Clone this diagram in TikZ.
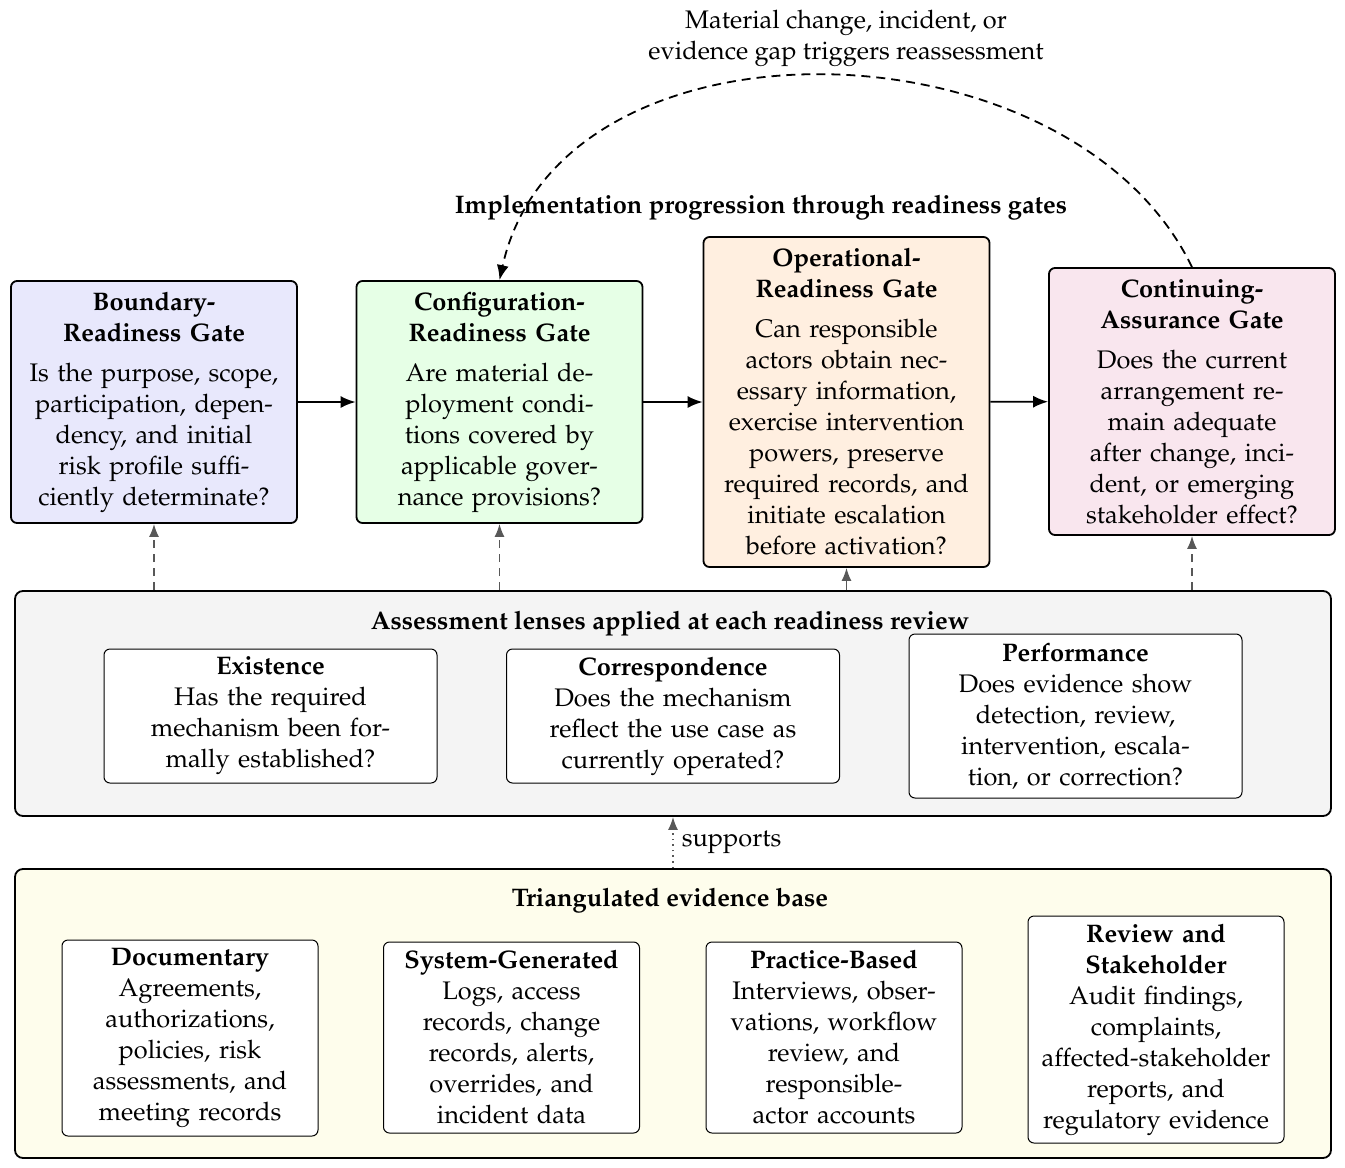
\documentclass[tikz,border=0pt]{standalone}
\usepackage[T1]{fontenc}
\usepackage{mathpazo}
\usetikzlibrary{arrows.meta}
\definecolor{gateB}{RGB}{232,232,252}
\definecolor{gateC}{RGB}{230,255,230}
\definecolor{gateO}{RGB}{255,239,224}
\definecolor{gateK}{RGB}{249,230,238}
\definecolor{lensbg}{RGB}{244,244,244}
\definecolor{evbg}{RGB}{254,253,236}
\definecolor{conn}{RGB}{88,88,88}
\tikzset{
  txt/.style={font=\fontsize{12.7}{15.5}\selectfont},
  btxt/.style={font=\fontsize{12.7}{15.5}\selectfont\bfseries},
  gate/.style={txt, draw, line width=0.9pt, rounded corners=3pt, align=center,
    text width=132pt, inner sep=0pt, minimum width=143pt},
  panel/.style={draw, line width=0.9pt, rounded corners=4pt, minimum width=658pt, inner sep=0pt},
  lensbox/.style={txt, draw, line width=0.5pt, fill=white, rounded corners=3pt, align=center,
    text width=152pt, inner sep=0pt, minimum width=166.5pt},
  evbox/.style={txt, draw, line width=0.5pt, fill=white, rounded corners=3pt, align=center,
    text width=122pt, inner sep=0pt, minimum width=128pt},
  flow/.style={line width=0.9pt, -{Latex[length=7.5pt,width=6pt]}},
  lensarrow/.style={conn, line width=0.8pt, dash pattern=on 4pt off 3pt, -{Latex[length=6.5pt,width=5pt]}},
  suparrow/.style={conn, line width=0.8pt, dotted, -{Latex[length=6.5pt,width=5pt]}},
  loop/.style={line width=0.9pt, dash pattern=on 4.5pt off 3pt, -{Latex[length=7.5pt,width=6pt]}},
}
\begin{document}
\begin{tikzpicture}[x=0.5pt,y=-0.5pt]
\useasboundingbox (0,0) rectangle (1345,1168);

% gates
\node[gate, fill=gateB, minimum height=121pt] (b) at (154,402)
  {\textbf{Boundary-}\\\textbf{Readiness Gate}\\[4.5pt]
   Is the purpose, scope,\\participation, depen-\\dency, and initial\\risk profile suffi-\\ciently determinate?};
\node[gate, fill=gateC, minimum height=121pt] (c) at (499.5,402)
  {\textbf{Configuration-}\\\textbf{Readiness Gate}\\[4.5pt]
   Are material de-\\ployment condi-\\tions covered by\\applicable gover-\\nance provisions?};
\node[gate, fill=gateO, minimum height=165pt] (o) at (846.5,402)
  {\textbf{Operational-}\\\textbf{Readiness Gate}\\[4.5pt]
   Can responsible\\actors obtain nec-\\essary information,\\exercise intervention\\powers, preserve\\required records, and\\initiate escalation\\before activation?};
\node[gate, fill=gateK, minimum height=133.5pt] (k) at (1192,401.5)
  {\textbf{Continuing-}\\\textbf{Assurance Gate}\\[4.5pt]
   Does the current\\arrangement re-\\main adequate\\after change, inci-\\dent, or emerging\\stakeholder effect?};

\node[btxt] (head) at (761,208)
  {Implementation progression through readiness gates};
\node[txt, align=center] (looplabel) at (846,38)
  {Material change, incident, or\\evidence gap triggers reassessment};

\draw[flow] (b) -- (c);
\draw[flow] (c) -- (o);
\draw[flow] (o) -- (k);

\draw[loop] (k.north) .. controls (1070,15) and (560,5) .. (c.north);

% lenses panel
\node[panel, fill=lensbg, minimum height=112.5pt] (lens) at (673,703.5) {};
\node[btxt] (lenstitle) at (670,624)
  {Assessment lenses applied at each readiness review};
\node[lensbox, minimum height=67pt] (ex) at (270.5,716)
  {\textbf{Existence}\\Has the required\\mechanism been for-\\mally established?};
\node[lensbox, minimum height=67pt] (co) at (673,716)
  {\textbf{Correspondence}\\Does the mechanism\\reflect the use case as\\currently operated?};
\node[lensbox, minimum height=82pt] (pe) at (1075.5,716)
  {\textbf{Performance}\\Does evidence show\\detection, review,\\intervention, escala-\\tion, or correction?};

\draw[lensarrow] (b.south |- lens.north) -- (b.south);
\draw[lensarrow] (c.south |- lens.north) -- (c.south);
\draw[conn, line width=0.8pt, -{Latex[length=6.5pt,width=5pt]}] (o.south |- lens.north) -- (o.south);
\draw[lensarrow] (k.south |- lens.north) -- (k.south);

% evidence panel
\node[panel, fill=evbg, minimum height=144.5pt] (ev) at (673,1013.5) {};
\node[btxt] (evtitle) at (670,901)
  {Triangulated evidence base};
\node[evbox, minimum height=98pt] (doc) at (190,1038)
  {\textbf{Documentary}\\Agreements,\\authorizations,\\policies, risk\\assessments, and\\meeting records};
\node[evbox, minimum height=95.5pt] (sys) at (511.5,1037.5)
  {\textbf{System-Generated}\\Logs, access\\records, change\\records, alerts,\\overrides, and\\incident data};
\node[evbox, minimum height=95.5pt] (pra) at (834,1037.5)
  {\textbf{Practice-Based}\\Interviews, obser-\\vations, workflow\\review, and\\responsible-\\actor accounts};
\node[evbox, minimum height=113.5pt] (rev) at (1156,1029.5)
  {\textbf{Review and}\\\textbf{Stakeholder}\\Audit findings,\\complaints,\\affected-stakeholder\\reports, and\\regulatory evidence};

\draw[suparrow] (ev.north) -- node[txt, text=black, right, inner sep=4pt] (suplabel) {supports} (lens.south);
\end{tikzpicture}
\end{document}
